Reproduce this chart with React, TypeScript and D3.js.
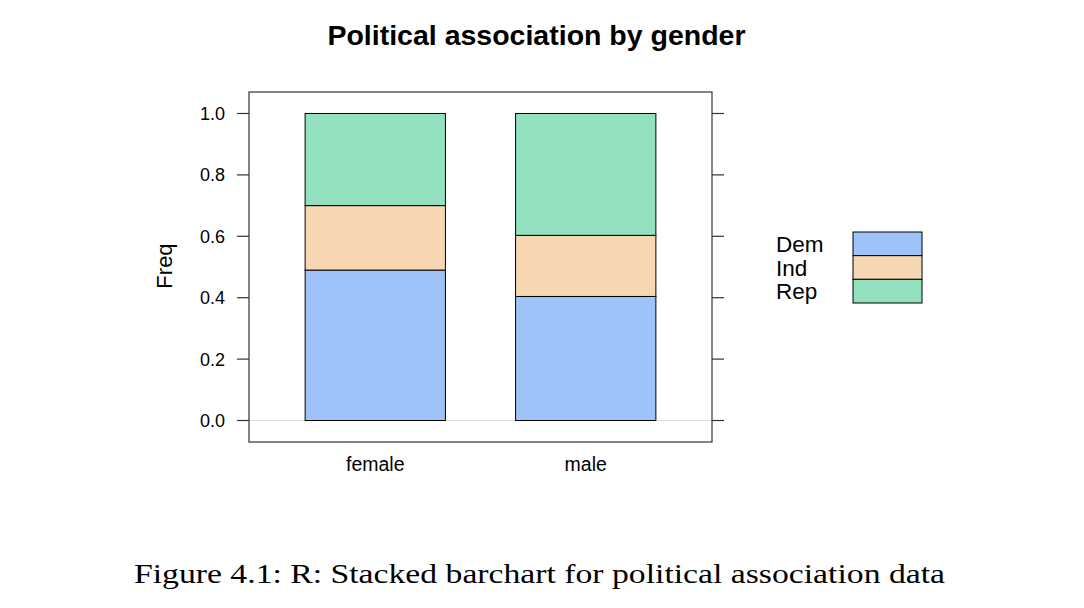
import React from "react";
import * as d3 from "d3";

const genders = ["female", "male"];
const parties = ["Dem", "Ind", "Rep"];
const demFreq = [0.49, 0.404];
const indFreq = [0.21, 0.199];
const repFreq = [0.30, 0.397];
const yTicks = [0, 0.2, 0.4, 0.6, 0.8, 1.0];
const partyColors = ["#9DC3F8", "#F7D7B2", "#93E0BF"];

const W = 1084;
const H = 608;
const panel = { left: 249, right: 712, top: 92, bottom: 442 };

export default function App() {
  const x = d3.scaleLinear().domain([0.4, 2.6]).range([panel.left, panel.right]);
  const y = d3.scaleLinear().domain([-0.07, 1.07]).range([panel.bottom, panel.top]);
  const barW = (x(2) - x(1)) * (2 / 3);
  const series = [demFreq, indFreq, repFreq];
  const rows = genders.map((g, i) => {
    const r: any = { gender: g };
    parties.forEach((p, j) => (r[p] = series[j][i]));
    return r;
  });
  const stacked = d3.stack().keys(parties)(rows);
  const font = "'Liberation Sans', Arial, Helvetica, sans-serif";
  const legendY = d3.scaleBand().domain(parties).range([232, 303]);

  return (
    <svg width={W} height={H} style={{ position: "absolute", left: 0, top: 0, background: "#fff" }}>
      <text x={536.5} y={45} textAnchor="middle" fontFamily={font} fontWeight="bold" fontSize={28.5}>
        Political association by gender
      </text>
      {/* zero reference line */}
      <line x1={panel.left} x2={panel.right} y1={y(0)} y2={y(0)} stroke="#e0e0e0" strokeWidth={1} />
      {stacked.map((s, j) =>
        s.map((d, i) => (
          <rect
            key={`${j}-${i}`}
            x={x(i + 1) - barW / 2}
            width={barW}
            y={y(d[1])}
            height={y(d[0]) - y(d[1])}
            fill={partyColors[j]}
            stroke="#000"
            strokeWidth={1}
          />
        ))
      )}
      <rect
        x={panel.left}
        y={panel.top}
        width={panel.right - panel.left}
        height={panel.bottom - panel.top}
        fill="none"
        stroke="#333"
        strokeWidth={1.2}
      />
      {yTicks.map((t) => (
        <g key={t}>
          <line x1={panel.left - 12} x2={panel.left} y1={y(t)} y2={y(t)} stroke="#333" strokeWidth={1.2} />
          <line x1={panel.right} x2={panel.right + 12} y1={y(t)} y2={y(t)} stroke="#333" strokeWidth={1.2} />
          <text x={225} y={y(t) + 6.5} textAnchor="end" fontFamily={font} fontSize={18}>
            {t.toFixed(1)}
          </text>
        </g>
      ))}
      {genders.map((g, i) => (
        <text key={g} x={x(i + 1)} y={471} textAnchor="middle" fontFamily={font} fontSize={19.5}>
          {g}
        </text>
      ))}
      <text
        transform={`translate(172, 266) rotate(-90)`}
        textAnchor="middle"
        fontFamily={font}
        fontSize={22}
      >
        Freq
      </text>
      {parties.map((p, j) => (
        <g key={p}>
          <text x={776} y={(legendY(p) as number) + legendY.bandwidth() / 2 + 8} fontFamily={font} fontSize={22.5}>
            {p}
          </text>
          <rect
            x={853}
            y={legendY(p)}
            width={69}
            height={legendY.bandwidth()}
            fill={partyColors[j]}
            stroke="#000"
            strokeWidth={1}
          />
        </g>
      ))}
      <text
        x={134}
        y={583}
        fontFamily="'Liberation Serif', 'DejaVu Serif', serif"
        fontSize={27}
        textLength={811}
        lengthAdjust="spacingAndGlyphs"
      >
        Figure 4.1: R: Stacked barchart for political association data
      </text>
    </svg>
  );
}
